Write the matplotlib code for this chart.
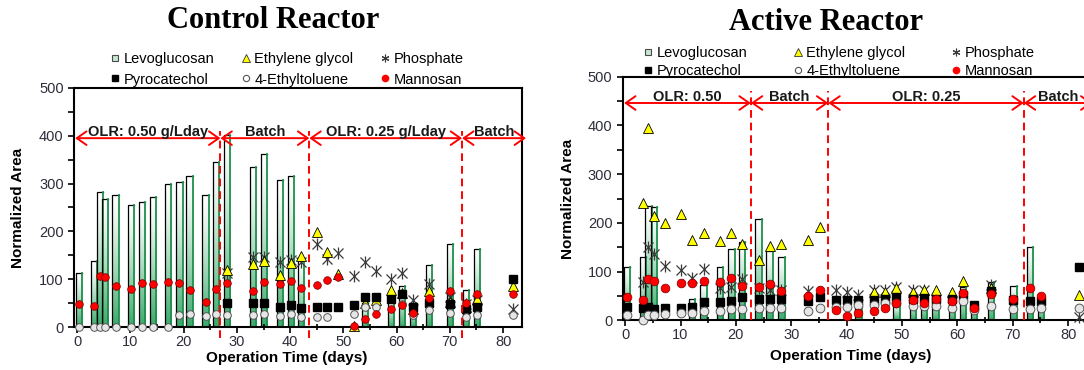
import numpy as np
import matplotlib.pyplot as plt
from matplotlib.colors import LinearSegmentedColormap
from matplotlib.lines import Line2D

plt.rcParams['font.family'] = ['Liberation Sans', 'DejaVu Sans']

nan = np.nan

# sampling days (same schedule for both reactors)
days = [0.3, 3.2, 4.2, 5.2, 7.2, 10.1, 12.1, 14.2, 17.1, 19.2, 21.1, 24.1, 26.1, 28.2,
        33.1, 35.1, 38.1, 40.1, 42.1, 45, 47, 49, 52, 54, 56.1, 59, 61, 63, 66.1,
        70.1, 73.1, 75.1, 81.9]

# ---- Control reactor ----
ctrl_levo = [112, 138, 282, 268, 277, 255, 261, 271, 299, 303, 316, 277, 345, 402,
             334, 361, 307, 316, 140, nan, nan, nan, nan, 50, nan, 55, 85, 50, 129,
             173, 77, 163, nan]
ctrl_eg = [nan] * 13 + [120, 131, 138, 108, 133, 148, 198, 156, 110, 2, 50, 56, 78,
                        72, 38, 75, 52, 42, 58, 85]
ctrl_phos = [nan] * 13 + [112, 147, 147, 135, 140, 136, 173, 143, 155, 106, 136, 117,
                          100, 112, 56, 91, 63, 49, 57, 37]
ctrl_pyro = [nan] * 13 + [51, 50, 51, 42, 47, 40, 42, 42, 42, 47, 63, 63, 58, 68, 42,
                          51, 48, 38, 41, 100]
ctrl_etol = [1, 1, 1, 1, 1, 1, 1, 1, 1, 26, 28, 23, 28, 26, 26, 28, 22, 28, 21, 21,
             21, nan, 28, 42, 42, nan, 49, 25, 35, 30, 21, 26, 25]
ctrl_mann = [49, 44, 107, 105, 86, 80, 92, 91, 95, 92, 78, 52, 80, 93, 75, 95, 89, 97,
             82, 87, 98, 105, 2, 16, 28, 38, 47, 30, 61, 76, 50, 70, 69]

# ---- Active reactor ----
act_levo = [110, 130, 235, 232, nan, nan, 45, 73, 110, 147, 160, 208, 142, 131, nan,
            nan, nan, nan, 28, nan, nan, 32, 45, 52, 56, 45, 69, 35, 78, 71, 150, 45, nan]
act_eg = [nan, 240, 394, 214, 200, 218, 166, 179, 164, 179, 157, 124, 153, 156, 165,
          191, nan, nan, nan, 59, 59, 66, 59, 62, 62, 59, 80, nan, 66, nan, nan, nan, 52]
act_phos = [nan, 78, 151, 136, 112, 103, 88, 105, 66, 69, 86, 66, 62, 62, 61, nan, 62,
            59, 52, 62, 62, 69, 62, 62, nan, nan, nan, nan, 73, nan, nan, nan, 8]
act_pyro = [28, 25, 28, 24, 25, 26, 28, 37, 37, 39, 48, 44, 44, 45, 39, 49, 42, 42, 43,
            42, 44, 49, 45, 47, 45, 45, 52, 32, 60, 42, 39, 39, 110]
act_etol = [11, 2, 11, 11, 13, 15, 15, 20, 20, 24, 24, 26, 25, 25, 20, 26, 28, 28, 32,
            32, 35, 36, 30, 30, 30, 25, 39, 21, 30, 23, 23, 25, 25]
act_mann = [49, 42, 85, 82, 67, 76, 76, 80, 78, 87, 71, 69, 75, 60, 51, 62, 21, 9, 16,
            20, 26, 36, 42, 35, 44, 40, 56, 26, 54, 45, 66, 50, nan]

# phase changes (days) and labels
ctrl_bounds = [26.9, 43.6, 72.3]
ctrl_phases = ['OLR: 0.50 g/Lday', 'Batch', 'OLR: 0.25 g/Lday', 'Batch']
act_bounds = [22.7, 36.7, 72.0]
act_phases = ['OLR: 0.50', 'Batch', 'OLR: 0.25', 'Batch']

compounds = ['Levoglucosan', 'Pyrocatechol', 'Ethylene glycol', '4-Ethyltoluene',
             'Phosphate', 'Mannosan']

GREEN = '#3aa96a'
levo_cmap = LinearSegmentedColormap.from_list('levo', ['white', GREEN])
grad = (np.linspace(1, 0, 80) ** 1.3).reshape(-1, 1)
TICK_COLOR = '#2e2e3a'
STAR_COLOR = '#3a3a3a'


def levo_bars(ax, x, h, width):
    for xi, hi in zip(x, h):
        if np.isnan(hi):
            continue
        x0, x1 = xi - width / 2, xi + width / 2
        ax.imshow(grad, cmap=levo_cmap, vmin=0, vmax=1, origin='lower',
                  extent=[x0, x1, 0, hi], aspect='auto', zorder=1,
                  interpolation='bilinear')
        ax.plot([x0, x0, x1], [0, hi, hi], color='black', lw=0.9, zorder=1.5)
        ax.plot([x1, x1], [0, hi], color='#1f8f4c', lw=1.3, zorder=1.5)


def star(ax, x, y, ms, **kw):
    # asterisk made of an x and a vertical bar
    ax.plot(x, y, marker='x', ms=ms, mew=0.9, color=STAR_COLOR, **kw)
    ax.plot(x, y, marker='|', ms=ms * 1.15, mew=0.9, color=STAR_COLOR, **kw)


def draw_panel(ax, levo, eg, phos, pyro, etol, mann, bounds, phases, ms,
               arrow_y, line_top, line_bottom, xlim, bar_w):
    levo_bars(ax, days, levo, bar_w)
    kw = dict(ls='none', clip_on=False)
    star(ax, days, phos, ms + 1.5, zorder=3, **kw)
    ax.plot(days, eg, marker='^', ms=ms + 1, mfc='#ffff00', mec='black', mew=0.6,
            zorder=4, **kw)
    ax.plot(days, pyro, marker='s', ms=ms, mfc='black', mec='black', zorder=5, **kw)
    ax.plot(days, etol, marker='o', ms=ms, mfc='#e6e6e6', mec='#555555', mew=0.7,
            zorder=6, **kw)
    ax.plot(days, mann, marker='o', ms=ms, mfc='#ff0000', mec='#7a0000', mew=0.5,
            zorder=7, **kw)

    # phase markers: dashed separators and double arrows
    edges = [xlim[0] + 0.2] + bounds + [xlim[1] + 0.8]
    for b in bounds:
        ax.plot([b, b], [line_bottom, line_top], color='red', ls=(0, (4, 2.5)),
                lw=1.4, clip_on=False, zorder=8)
    for x0, x1, label in zip(edges[:-1], edges[1:], phases):
        ax.annotate('', xy=(x1, arrow_y), xytext=(x0, arrow_y),
                    arrowprops=dict(arrowstyle='<->,head_length=0.5,head_width=0.35',
                                    color='red', lw=1.4, shrinkA=0, shrinkB=0,
                                    mutation_scale=14),
                    annotation_clip=False, zorder=8)
        ax.text((x0 + x1) / 2, arrow_y + 4, label, ha='center', va='baseline',
                fontsize=10.5, fontweight='bold', color='#1a1a1a', zorder=9)

    ax.set_xlim(*xlim)
    ax.set_ylim(0, 500)
    ax.set_xticks(range(0, 81, 10))
    ax.set_xticks(range(5, 81, 10), minor=True)
    ax.set_yticks(range(0, 501, 100))
    ax.set_yticks(range(50, 501, 100), minor=True)
    ax.tick_params(which='both', direction='out', width=1.2, length=4,
                   labelsize=10.5, labelcolor=TICK_COLOR, color='black')
    ax.tick_params(axis='x', which='major', pad=1.5)
    ax.tick_params(axis='x', which='minor', direction='inout', length=5)
    for sp in ax.spines.values():
        sp.set_linewidth(1.5)
    ax.set_xlabel('Operation Time (days)', fontsize=11, fontweight='bold')
    ax.set_ylabel('Normalized Area', fontsize=11, fontweight='bold')
    ax.xaxis.label.set_va('center')
    ax.yaxis.label.set_va('center')


def add_legend(ax, anchor, spacing, rowgap, ms):
    handles = [
        Line2D([], [], ls='none', marker='s', ms=ms, mfc='#c4e8d2', mec='#4a4a4a', mew=0.8),
        Line2D([], [], ls='none', marker='s', ms=ms, mfc='black', mec='black'),
        Line2D([], [], ls='none', marker='^', ms=ms + 1, mfc='#ffff00', mec='#333333', mew=0.6),
        Line2D([], [], ls='none', marker='o', ms=ms, mfc='white', mec='#555555', mew=0.8),
        Line2D([], [], ls='none', marker=(6, 2, 0), ms=ms + 1, color=STAR_COLOR, mew=0.8),
        Line2D([], [], ls='none', marker='o', ms=ms, mfc='red', mec='red'),
    ]
    ax.legend(handles, compounds, ncol=3, loc='upper left', bbox_to_anchor=anchor,
              bbox_transform=ax.figure.transFigure, frameon=False, fontsize=10.5,
              handlelength=0.6, handletextpad=0.25, columnspacing=spacing,
              labelspacing=rowgap, borderpad=0, borderaxespad=0)


fig = plt.figure(figsize=(10.84, 3.70), dpi=100)
ax1 = fig.add_axes([0.0683, 0.1162, 0.4130, 0.6460])
ax2 = fig.add_axes([0.5747, 0.1338, 0.4290, 0.6590])

draw_panel(ax1, ctrl_levo, ctrl_eg, ctrl_phos, ctrl_pyro, ctrl_etol, ctrl_mann,
           ctrl_bounds, ctrl_phases, ms=5.5, arrow_y=395, line_top=410,
           line_bottom=-22, xlim=(-0.6, 83.5), bar_w=1.15)
draw_panel(ax2, act_levo, act_eg, act_phos, act_pyro, act_etol, act_mann,
           act_bounds, act_phases, ms=6.3, arrow_y=446, line_top=470,
           line_bottom=0, xlim=(-0.4, 83.6), bar_w=1.2)
ax2.spines['right'].set_visible(False)

ax1.xaxis.set_label_coords(0.476, -0.13)
ax1.yaxis.set_label_coords(-0.125, 0.5)
ax2.xaxis.set_label_coords(0.49, -0.145)
ax2.yaxis.set_label_coords(-0.119, 0.5)

add_legend(ax1, (111 / 1084, 1 - 52 / 370), 1.9, 0.45, 4.5)
add_legend(ax2, (644 / 1084, 1 - 46 / 370), 3.2, 0.25, 4.5)

fig.text(273 / 1084, 1 - 21 / 370, 'Control Reactor', ha='center', va='center',
         fontsize=22, fontweight='bold', family='Liberation Serif')
fig.text(826 / 1084, 1 - 22 / 370, 'Active Reactor', ha='center', va='center',
         fontsize=22, fontweight='bold', family='Liberation Serif')

fig.savefig('out.png', dpi=100)
